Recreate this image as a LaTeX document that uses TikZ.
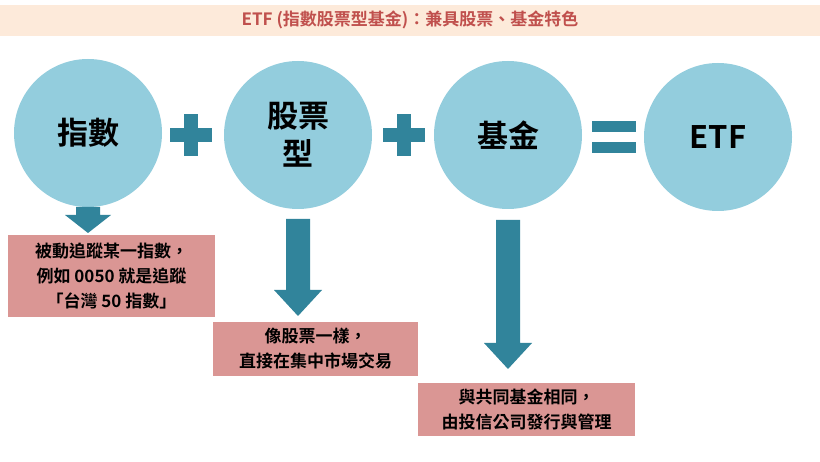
\documentclass[tikz,border=0pt]{standalone}
\usepackage{fontspec}
\setmainfont{Noto Sans CJK TC}[BoldFont={* Bold}]
\usetikzlibrary{arrows,positioning}
\definecolor{circblue}{HTML}{93CDDD}
\definecolor{teal}{HTML}{31849B}
\definecolor{pinkbox}{HTML}{DA9694}
\definecolor{titlebg}{HTML}{FDEADA}
\definecolor{titlered}{HTML}{C0504D}
\tikzset{
  bigcirc/.style={circle,fill=circblue,minimum size=148pt,inner sep=0pt,font=\fontsize{31}{38}\selectfont\bfseries,align=center},
  notebox/.style={fill=pinkbox,align=center,font=\fontsize{17}{25}\selectfont\bfseries,inner sep=0pt},
  downarrow/.style={fill=teal}
}
\begin{document}
\begin{tikzpicture}[x=1pt,y=-1pt]
\useasboundingbox (0,0) rectangle (820,462);
\fill[white] (0,0) rectangle (820,462);
% title
\fill[titlebg] (0,5) rectangle (820,36);
\node[text=titlered,font=\fontsize{17}{20}\selectfont\bfseries] (title) at (410,20) {ETF (指數股票型基金)：兼具股票、基金特色};
% circles
\node[bigcirc] (c1) at (88,133) {指數};
\node[bigcirc] (c2) at (298,135) {股票\\型};
\node[bigcirc] (c3) at (508,135) {基金};
\node[bigcirc] (c4) at (718,137) {ETF};
% operators
\fill[teal] (170,128) rectangle (212,142);
\fill[teal] (184,114) rectangle (198,156);
\fill[teal] (383,128) rectangle (425,142);
\fill[teal] (397,114) rectangle (411,156);
\fill[teal] (592,121) rectangle (636,132);
\fill[teal] (592,142) rectangle (636,153);
% arrows
\fill[downarrow] (76,207) -- (100,207) -- (100,215) -- (111,215) -- (88,233) -- (65,215) -- (76,215) -- cycle;
\fill[downarrow] (286,219) -- (310,219) -- (310,290) -- (322,290) -- (298,316) -- (274,290) -- (286,290) -- cycle;
\fill[downarrow] (496,220) -- (520,220) -- (520,343) -- (532,343) -- (508,369) -- (484,343) -- (496,343) -- cycle;
% boxes
\node[notebox,minimum width=207pt,minimum height=82pt] (b1) at (111.5,276) {被動追蹤某一指數，\\例如 0050 就是追蹤\\「台灣 50 指數」};
\node[notebox,minimum width=205pt,minimum height=54pt] (b2) at (315.5,349) {像股票一樣，\\直接在集中市場交易};
\node[notebox,minimum width=217pt,minimum height=53pt] (b3) at (526.5,409.5) {與共同基金相同，\\由投信公司發行與管理};
\end{tikzpicture}
\end{document}
